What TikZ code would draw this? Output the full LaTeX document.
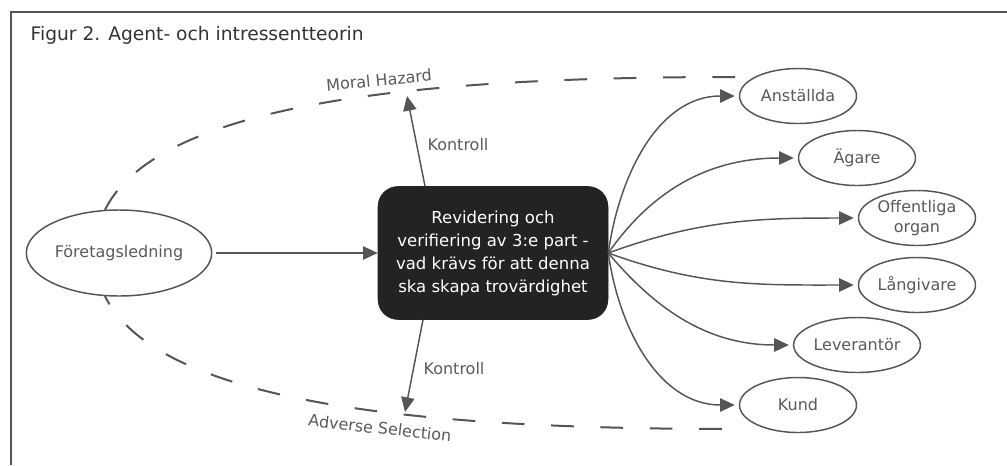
\documentclass[tikz,border=0pt]{standalone}
\usepackage{fontspec}
\setmainfont{DejaVu Sans}
\usepackage{tikz}
\usetikzlibrary{arrows.meta,shapes.geometric}
\definecolor{linegray}{HTML}{555555}
\definecolor{textgray}{HTML}{5A5A5A}
\definecolor{boxblack}{HTML}{232323}
\tikzstyle{party}=[draw=linegray, line width=1.1pt, fill=white, ellipse, text=textgray, font=\fontsize{12}{15}\selectfont, minimum width=87.75pt, minimum height=41.25pt, inner sep=1pt, align=center]
\tikzstyle{lead}=[party, minimum width=132pt, minimum height=64.5pt]
\tikzstyle{core}=[draw=boxblack, fill=boxblack, rounded corners=15pt, text=white, font=\fontsize{12.4}{17.25}\selectfont, minimum width=172.5pt, minimum height=99.75pt, align=center]
\tikzstyle{arr}=[color=linegray, line width=1.1pt, -{Triangle[length=11pt,width=10pt]}]
\tikzstyle{hazard}=[draw=linegray, line width=1.5pt, dash pattern=on 17pt off 20pt]
\tikzstyle{lbl}=[text=textgray, font=\fontsize{12}{14}\selectfont]

\begin{document}
\begin{tikzpicture}[x=0.75pt, y=-0.75pt]
            \useasboundingbox (0,0) rectangle (1007,465);
            \draw[linegray, line width=2pt] (1007,12) -- (11,12) -- (11,465);
            \node[anchor=west, text=black!80, font=\fontsize{14}{16}\selectfont] (title) at (26,35) {Figur 2. Agent- och intressentteorin};
            \draw[hazard] (735,77) .. controls (400,77) and (95,105) .. (95,253) .. controls (95,401) and (400,429) .. (735,429);
            \node[lbl, rotate=5.5] (moral) at (379,80) {Moral Hazard};
            \node[lbl, rotate=-6.5] (adverse) at (380,428) {Adverse Selection};
            \node[lead] (ledning) at (119,253) {Företagsledning};
            \node[core, right of=ledning, node distance=280.5pt] (revision) {Revidering och\\verifiering av 3:e part -\\vad krävs för att denna\\ska skapa trovärdighet};
            \node[party] (anst) at (798,96) {Anställda};
            \node[party, below of=anst, node distance=231.75pt] (kund) {Kund};
            \node[party] (agare) at (857,158) {Ägare};
            \node[party, below of=agare, node distance=140.25pt] (lev) {Leverantör};
            \node[party] (off) at (917,218) {Offentliga\\organ};
            \node[party, below of=off, node distance=50.25pt] (lang) {Långivare};
            \coordinate (mh) at (407,96);
            \coordinate (as) at (405,412);
            \node[lbl] (kup) at (458,145) {Kontroll};
            \node[lbl] (kdown) at (454,369) {Kontroll};
            \path[arr, shorten <=3pt] (ledning) edge (revision);
            \path[arr] ([xshift=-51pt]revision.north) edge (mh);
            \path[arr] ([xshift=-52.5pt]revision.south) edge (as);
            \path[arr, shorten >=3pt] (revision.east) edge[out=82, in=180] (anst);
            \path[arr, shorten >=3pt] (revision.east) edge[out=55, in=180] (agare);
            \path[arr, shorten >=3pt] (revision.east) edge[out=20, in=180] (off);
            \path[arr, shorten >=3pt] (revision.east) edge[out=-20, in=180] (lang);
            \path[arr, shorten >=3pt] (revision.east) edge[out=-50, in=180] (lev);
            \path[arr, shorten >=3pt] (revision.east) edge[out=-82, in=180] (kund);
        \end{tikzpicture}
\end{document}
